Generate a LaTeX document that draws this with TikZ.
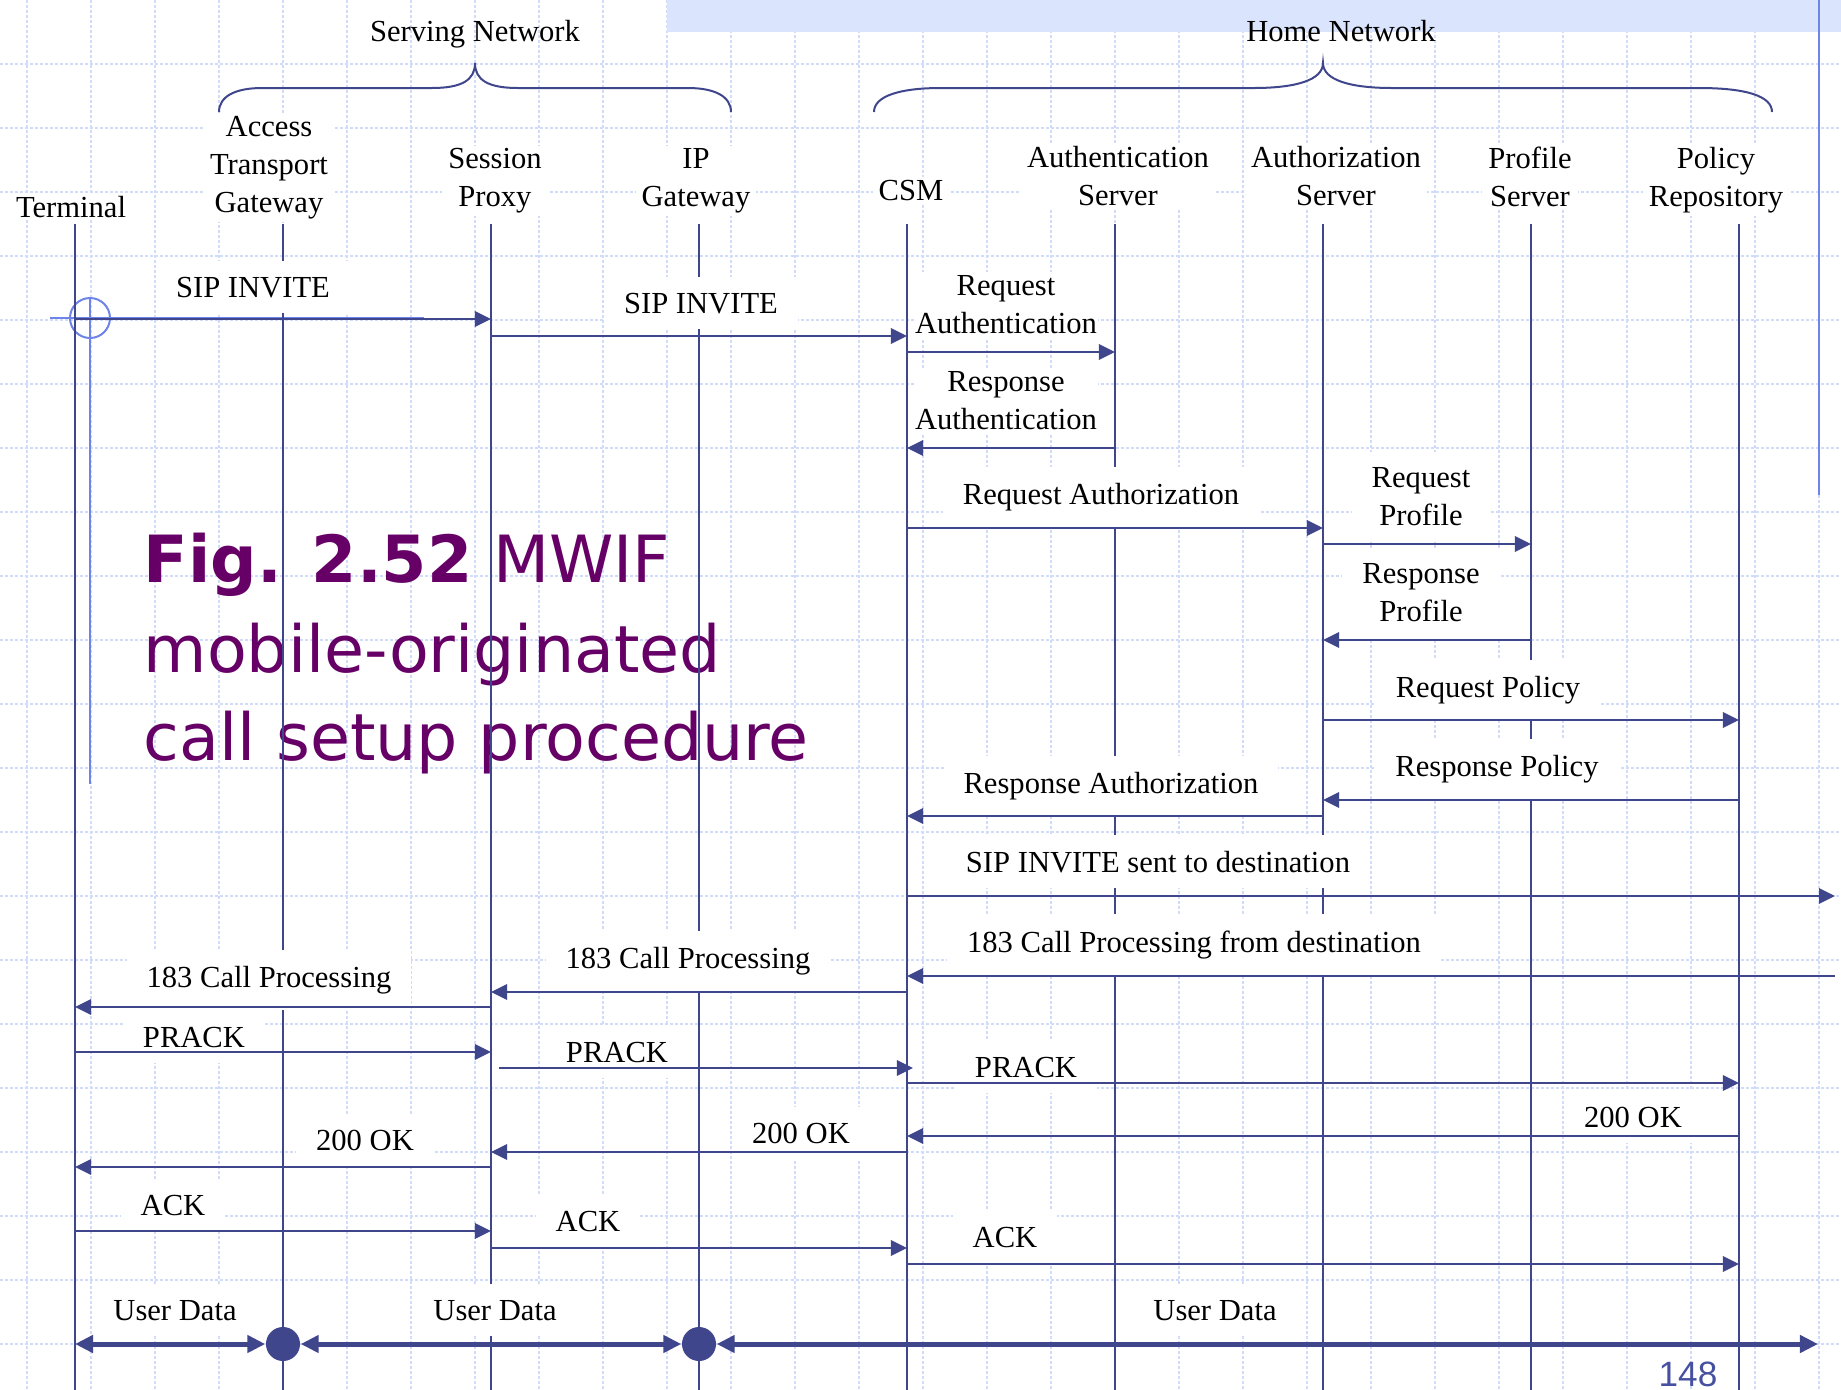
\documentclass[tikz,border=0pt]{standalone}
\usepackage{fontspec}
\setmainfont{Liberation Serif}
\newfontfamily\titlefont{DejaVu Sans}
\newfontfamily\pagefont{Liberation Sans}
\usepackage{tikz}
\usetikzlibrary{arrows.meta,positioning,calc}
\definecolor{lineblue}{RGB}{64,70,140}
\definecolor{gridblue}{RGB}{208,220,250}
\definecolor{bandblue}{RGB}{218,228,252}
\definecolor{decoblue}{RGB}{110,132,232}
\definecolor{titlepurple}{RGB}{102,0,102}
\definecolor{pageblue}{RGB}{70,80,160}
\newcommand{\lblfont}{\fontsize{8.7pt}{10.8pt}\selectfont}

\begin{document}
\begin{tikzpicture}[
    x=0.01cm, y=-0.01cm,
    gridline/.style={draw=gridblue, line width=0.012cm, dash pattern=on 0.03cm off 0.02cm},
    lifeline/.style={draw=lineblue, line width=0.018cm},
    actor/.style={fill=white, align=center, font=\lblfont, inner xsep=0.06cm, inner ysep=0.03cm},
    netlabel/.style={align=center, font=\lblfont, inner sep=0pt},
    msglabel/.style={fill=white, align=center, font=\lblfont, inner xsep=0.2cm, inner ysep=0.16cm},
    tightlabel/.style={msglabel, inner xsep=0.01cm, inner ysep=0.04cm},
    msg/.style={draw=lineblue, line width=0.028cm, -{Triangle[length=0.16cm, width=0.15cm]}},
    datalink/.style={draw=lineblue, line width=0.05cm, {Triangle[length=0.18cm, width=0.17cm]}-{Triangle[length=0.18cm, width=0.17cm]}},
    relay/.style={circle, fill=lineblue, minimum size=0.34cm, inner sep=0pt},
    netbrace/.style={draw=lineblue, line width=0.02cm},
    deco/.style={draw=decoblue, line width=0.02cm},
    title/.style={font=\titlefont\fontsize{18.5pt}{22pt}\selectfont, text=titlepurple, inner sep=0pt, anchor=base west},
    pagenum/.style={font=\pagefont\fontsize{10pt}{12pt}\selectfont, text=pageblue, inner sep=0pt, anchor=base}
]
    % Slide background
    \useasboundingbox (0,0) rectangle (1841,1390);
    \fill[white] (0,0) rectangle (1841,1390);
    \foreach \gx in {27,91,...,1819} \draw[gridline] (\gx,0) -- (\gx,1390);
    \foreach \gy in {64,128,...,1344} \draw[gridline] (0,\gy) -- (1841,\gy);
    \fill[bandblue] (667,0) rectangle (1841,32);
    \draw[deco] (90,297) -- (90,784);
    \draw[deco] (50,318) -- (424,318);
    \draw[deco] (90,318) circle[radius=20];
    \draw[deco] (1819,0) -- (1819,495);

    % Title
    \node[title] (fig1) at (143,582) {{\bfseries Fig. 2.52} MWIF};
    \node[title] (fig2) at (143,672) {mobile-originated};
    \node[title] (fig3) at (143,760) {call setup procedure};

    % Lifelines
    \foreach \name/\lx in {term/75, atg/283, proxy/491, ipgw/699, csm/907, authn/1115, authz/1323, prof/1531, policy/1739} {
        \coordinate (\name) at (\lx,224);
        \draw[lifeline] (\name) -- (\lx,1390);
    }
    \coordinate (dest) at (1835,224);

    % Entities
    \node[actor, anchor=base] (termlbl) at (71,217) {Terminal};
    \node[actor] (atglbl) at (269,168) {Access\\Transport\\Gateway};
    \node[actor] (proxylbl) at (495,181) {Session\\Proxy};
    \node[actor] (ipgwlbl) at (696,181) {IP\\Gateway};
    \node[actor, anchor=base] (csmlbl) at (911,200) {CSM};
    \node[actor] (authnlbl) at (1118,176.5) {Authentication\\Server};
    \node[actor] (authzlbl) at (1336,176.5) {Authorization\\Server};
    \node[actor] (proflbl) at (1530,176.5) {Profile\\Server};
    \node[actor] (policylbl) at (1716,180) {Policy\\Repository};

    % Networks
    \node[netlabel, anchor=base] (servnet) at (475,41) {Serving Network};
    \node[netlabel, anchor=base] (homenet) at (1341,41) {Home Network};
    \draw[netbrace] (219,112) .. controls (219,96) and (236,88) .. (262,88) -- (432,88)
        .. controls (462,88) and (475,80) .. (475,63) .. controls (475,80) and (488,88) .. (518,88)
        -- (688,88) .. controls (714,88) and (731,96) .. (731,112);
    \draw[netbrace] (874,112) .. controls (874,96) and (900,88) .. (941,88) -- (1254,88)
        .. controls (1296,88) and (1323,80) .. (1323,63) .. controls (1323,80) and (1350,88) .. (1392,88)
        -- (1699,88) .. controls (1746,88) and (1772,96) .. (1772,112);

    % Message labels
    \node[msglabel, anchor=base] (inv1) at (253,297) {SIP INVITE};
    \node[msglabel, anchor=base] (inv2) at (701,313) {SIP INVITE};
    \node[tightlabel] (reqauthn) at (1006,305) {Request\\Authentication};
    \node[tightlabel] (resauthn) at (1006,401) {Response\\Authentication};
    \node[msglabel, anchor=base] (reqauthz) at (1101,504) {Request Authorization};
    \node[msglabel] (reqprof) at (1421,497) {Request\\Profile};
    \node[msglabel] (resprof) at (1421,593) {Response\\Profile};
    \node[msglabel, anchor=base] (reqpol) at (1488,697) {Request Policy};
    \node[msglabel, anchor=base] (respol) at (1497,776) {Response Policy};
    \node[msglabel, anchor=base] (resauthz) at (1111,793) {Response Authorization};
    \node[msglabel, anchor=base] (invdest) at (1158,872) {SIP INVITE sent to destination};
    \node[msglabel, anchor=base] (cpdest) at (1194,952) {183 Call Processing from destination};
    \node[msglabel, anchor=base] (cp2) at (688,968) {183 Call Processing};
    \node[msglabel, anchor=base] (cp1) at (269,987) {183 Call Processing};
    \node[msglabel, anchor=base] (prack1) at (194,1047) {PRACK};
    \node[msglabel, anchor=base] (prack2) at (617,1062) {PRACK};
    \node[msglabel, anchor=base] (prack3) at (1026,1077) {PRACK};
    \node[msglabel, anchor=base] (ok3) at (1633,1127) {200 OK};
    \node[msglabel, anchor=base] (ok2) at (801,1143) {200 OK};
    \node[msglabel, anchor=base] (ok1) at (365,1150) {200 OK};
    \node[msglabel, anchor=base] (ack1) at (173,1215) {ACK};
    \node[msglabel, anchor=base] (ack2) at (588,1231) {ACK};
    \node[msglabel, anchor=base] (ack3) at (1005,1247) {ACK};
    \node[msglabel, anchor=base] (data1) at (175,1320) {User Data};
    \node[msglabel, anchor=base] (data2) at (495,1320) {User Data};
    \node[msglabel, anchor=base] (data3) at (1215,1320) {User Data};

    % Message arrows
    \draw[msg] (term |- 0,319) -- (proxy |- 0,319);
    \draw[msg] (proxy |- 0,336) -- (csm |- 0,336);
    \draw[msg] (csm |- 0,352) -- (authn |- 0,352);
    \draw[msg] (authn |- 0,448) -- (csm |- 0,448);
    \draw[msg] (csm |- 0,528) -- (authz |- 0,528);
    \draw[msg] (authz |- 0,544) -- (prof |- 0,544);
    \draw[msg] (prof |- 0,640) -- (authz |- 0,640);
    \draw[msg] (authz |- 0,720) -- (policy |- 0,720);
    \draw[msg] (policy |- 0,800) -- (authz |- 0,800);
    \draw[msg] (authz |- 0,816) -- (csm |- 0,816);
    \draw[msg] (csm |- 0,896) -- (dest |- 0,896);
    \draw[msg] (dest |- 0,976) -- (csm |- 0,976);
    \draw[msg] (csm |- 0,992) -- (proxy |- 0,992);
    \draw[msg] (proxy |- 0,1007) -- (term |- 0,1007);
    \draw[msg] (term |- 0,1052) -- (proxy |- 0,1052);
    \draw[msg] ([xshift=0.08cm]proxy |- 0,1068) -- ([xshift=0.06cm]csm |- 0,1068);
    \draw[msg] (csm |- 0,1083) -- (policy |- 0,1083);
    \draw[msg] (policy |- 0,1136) -- (csm |- 0,1136);
    \draw[msg] (csm |- 0,1152) -- (proxy |- 0,1152);
    \draw[msg] (proxy |- 0,1167) -- (term |- 0,1167);
    \draw[msg] (term |- 0,1231) -- (proxy |- 0,1231);
    \draw[msg] (proxy |- 0,1248) -- (csm |- 0,1248);
    \draw[msg] (csm |- 0,1264) -- (policy |- 0,1264);

    % User data path
    \node[relay] (relayA) at (atg |- 0,1344) {};
    \node[relay] (relayB) at (ipgw |- 0,1344) {};
    \coordinate (dataend) at (1818,1344);
    \draw[datalink] (term |- relayA) -- (relayA);
    \draw[datalink] (relayA) -- (relayB);
    \draw[datalink] (relayB) -- (dataend);

    % Page number
    \node[pagenum] (pageno) at (1688,1386) {148};
\end{tikzpicture}
\end{document}
